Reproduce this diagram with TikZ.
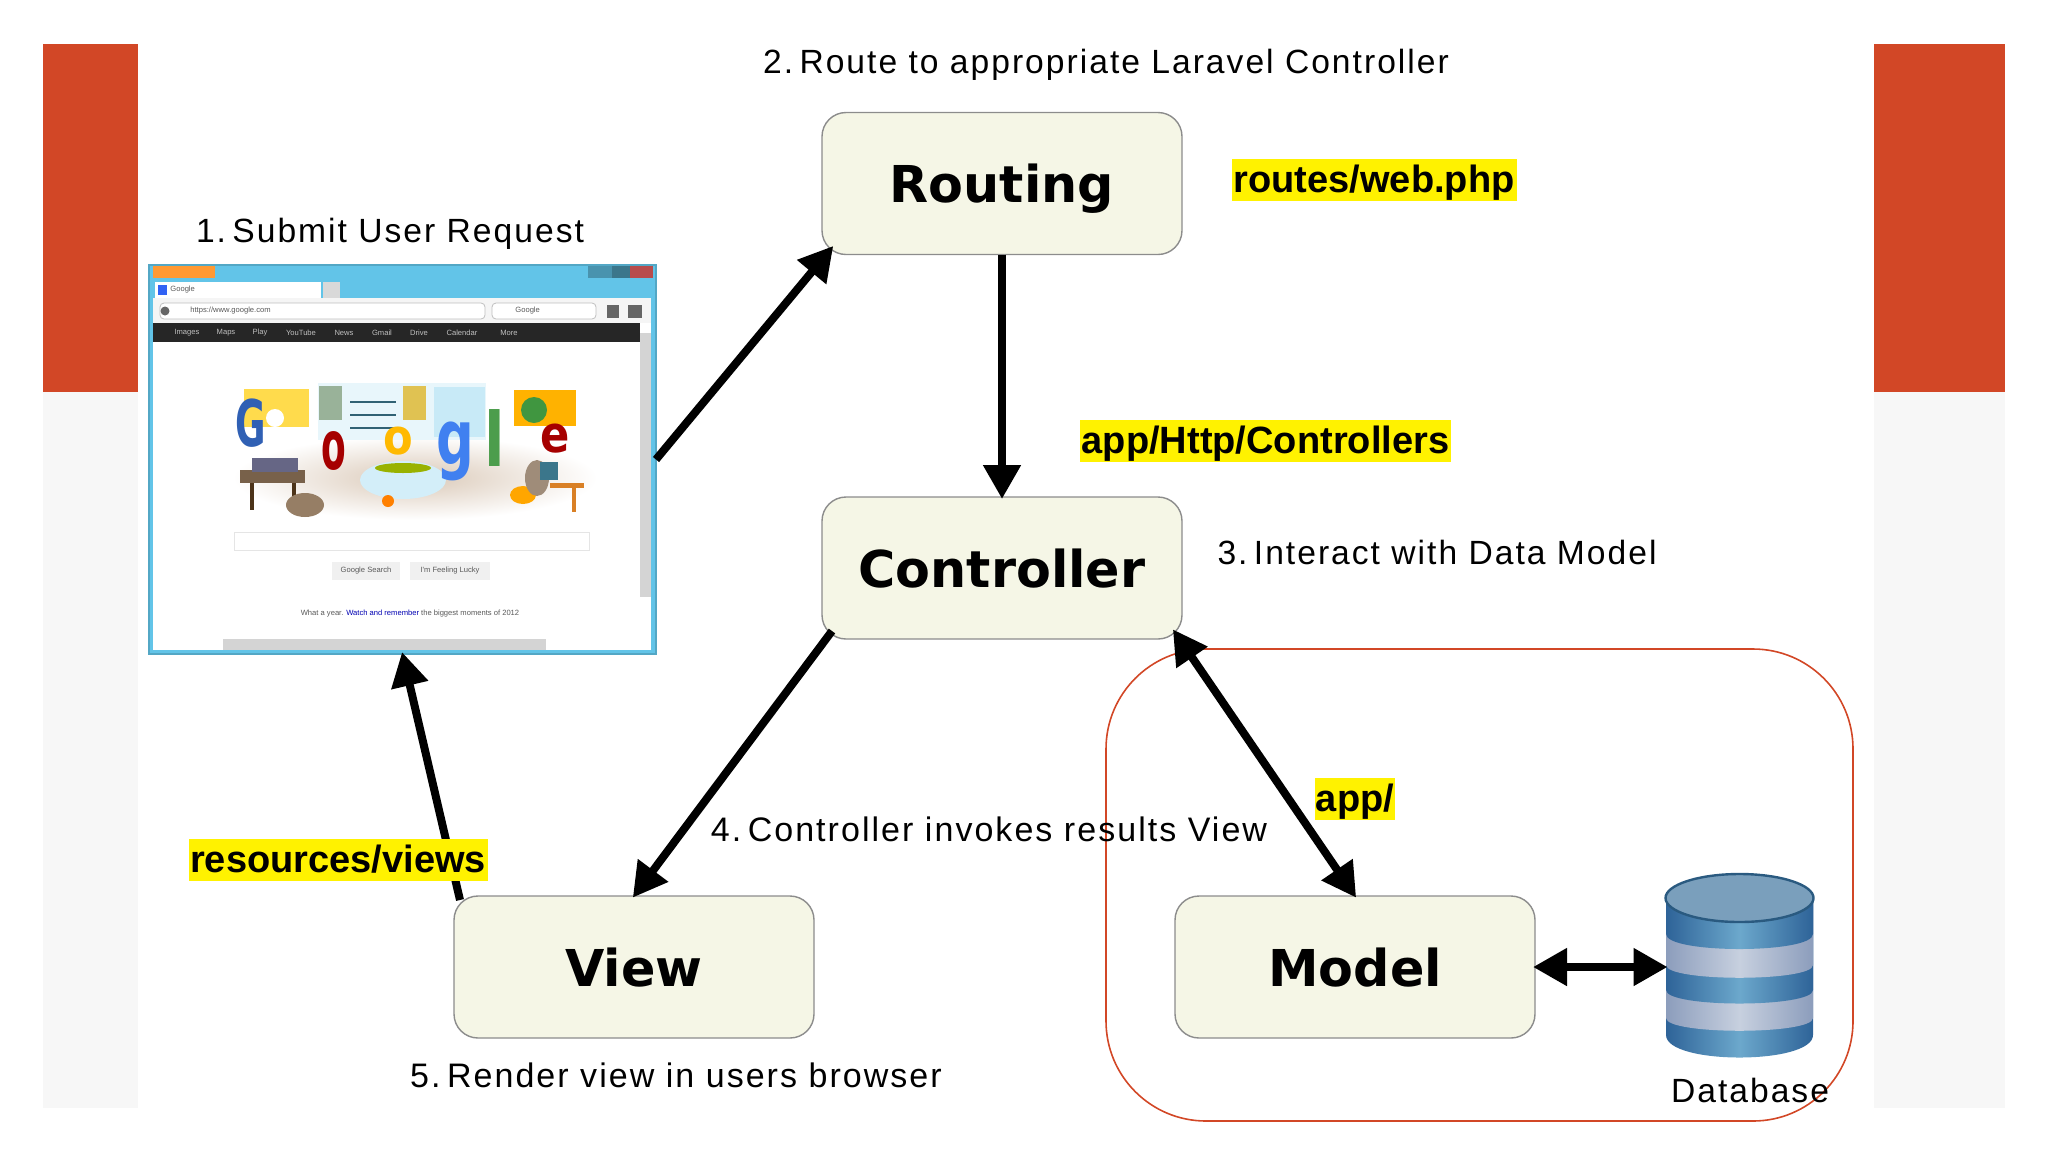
\documentclass[tikz,border=0pt]{standalone}
\usepackage{fontspec}
\usepackage{graphicx}
\usetikzlibrary{arrows.meta}
\newfontfamily\boxfont{DejaVu Sans}
\newfontfamily\capfont[LetterSpace=6]{Liberation Sans}
\newfontfamily\tagfont{Liberation Sans}
\definecolor{barred}{HTML}{D24726}
\definecolor{bargrey}{HTML}{F7F7F7}
\definecolor{boxfill}{HTML}{F5F6E6}
\definecolor{skyblue}{HTML}{62C4E8}
\definecolor{dbdark}{HTML}{2E6398}
\definecolor{dblight}{HTML}{6CA8CC}
\definecolor{dbgrey}{HTML}{8C9DBC}
\definecolor{dbpale}{HTML}{C7D0DF}
\definecolor{dbtop}{HTML}{7A9FBC}
\definecolor{dbedge}{HTML}{2A5A80}
\newcommand{\dbband}[4]{\shade[left color=#3,right color=#3,middle color=#4] (1666,898)--(1666,#1) .. controls (1666,#1+#2) and (1813,#1+#2) .. (1813,#1)--(1813,898)--cycle;}
\tikzset{
  mvcbox/.style={draw=black!45,line width=0.7pt,outer sep=0pt,fill=boxfill,rounded corners=12pt,minimum width=180pt,minimum height=71pt,text height=19pt,text depth=0pt,font=\boxfont\bfseries\fontsize{25.4}{30}\selectfont},
  caption/.style={font=\capfont\fontsize{16.8}{20}\selectfont},
  tag/.style={fill=yellow,inner sep=0pt,minimum height=21pt,text height=14pt,text depth=2pt,font=\tagfont\bfseries\fontsize{19}{23}\selectfont},
  flow/.style={line width=4pt,shorten >=-1pt,-{Triangle[length=17pt,width=18pt]}},
  twoway/.style={line width=4pt,shorten >=-1pt,shorten <=-1pt,{Triangle[length=17pt,width=18pt]}-{Triangle[length=17pt,width=18pt]}},
  tiny/.style={inner sep=0pt,font=\tagfont\fontsize{3.8}{4}\selectfont,text=black!65},
}
\begin{document}
\begin{tikzpicture}[x=0.5pt,y=-0.5pt]
\useasboundingbox (0,0) rectangle (2048,1152);
%\draw[help lines,step=100] (0,0) grid (2048,1152);
\fill[bargrey] (43,392) rectangle (138,1108);
\fill[bargrey] (1874,392) rectangle (2005,1108);
\fill[barred] (43,44) rectangle (138,392);
\fill[barred] (1874,44) rectangle (2005,392);
\draw[barred,line width=0.8pt,rounded corners=50pt] (1106,649) rectangle (1853,1121);
% browser window
\node[minimum width=253.5pt,minimum height=194.5pt,inner sep=0pt,outer sep=0pt,fill=skyblue,draw=skyblue!85!black,line width=0.8pt] (browser) at (402.5,459.5) {};
\fill[white] (153,298) rectangle (651,650);
\fill[orange!80!white] (153,266) rectangle (215,278);
\fill[skyblue!75!black] (588,266) rectangle (612,278);
\fill[skyblue!60!black] (612,266) rectangle (630,278);
\fill[red!60!black!70!white] (630,266) rectangle (653,278);
\fill[white] (155,282) rectangle (321,298);
\fill[black!15] (323,282) rectangle (340,298);
\fill[blue!50!skyblue] (158,285) rectangle (167,295);
\fill[black!4] (153,298) rectangle (651,323);
\draw[black!25,fill=white,rounded corners=2pt] (160,303) rectangle (485,319);
\draw[black!25,fill=white,rounded corners=2pt] (492,303) rectangle (596,319);
\fill[black!60] (165,311) circle (4.5);
\fill[black!60] (607,305) rectangle (619,318);
\fill[black!60] (628,305) rectangle (642,318);
\node[tiny,right] (tabtext) at (170,290) {Google};
\node[tiny,right] (urltext) at (190,311) {https://www.google.com};
\node[tiny,right] (findtext) at (515,311) {Google};
% nav bar
\fill[black!85] (153,323) rectangle (640,342);
\foreach \x/\w in {187/Images,226/Maps,260/Play,301/YouTube,344/News,382/Gmail,419/Drive,462/Calendar,509/More}
  \node[tiny,text=black!25] (nav\w) at (\x,333) {\w};
\fill[black!17] (640,333) rectangle (651,597);
\fill[black!17] (223,639) rectangle (546,650);
% doodle scene
\shade[inner color=black!22!brown!35,outer color=white] (415,478) ellipse (182 and 42);
\fill[skyblue!15] (318,383) rectangle (486,440);
\fill[orange!40!yellow!70] (244,389) rectangle (309,427);
\fill[white] (275,418) circle (9);
\fill[green!25!black!40] (319,386) rectangle (342,420);
\fill[brown!60!yellow!80] (403,386) rectangle (426,420);
\foreach \y in {402,415,428}
  \draw[skyblue!50!black,line width=0.7pt] (350,\y) -- (396,\y);
\fill[skyblue!35] (434,387) rectangle (485,437);
\fill[orange!60!yellow] (514,390) rectangle (576,426);
\fill[green!45!black!75] (534,410) circle (13);
\fill[brown!45!black!80] (240,470) rectangle (305,483);
\fill[blue!20!black!60] (252,458) rectangle (298,472);
\fill[brown!40!black] (250,483) rectangle (254,510);
\fill[brown!40!black] (292,483) rectangle (296,510);
\fill[black!45!brown!70] (305,505) ellipse (19 and 12);
\fill[skyblue!28] (403,480) ellipse (43 and 19);
\fill[orange!60!green] (403,468) ellipse (28 and 5);
\fill[orange] (388,501) circle (6);
\fill[orange!70!yellow] (523,495) ellipse (13 and 9);
\fill[black!50!brown!60] (537,478) ellipse (12 and 18);
\fill[skyblue!60!black] (540,462) rectangle (558,480);
\fill[brown!60!orange] (550,483) rectangle (584,488);
\fill[brown!60!orange] (572,488) rectangle (576,512);
\foreach \x/\y/\c/\t/\n/\sx/\sy in {251/423/blue!35!skyblue!75!black/G/a/.62/1.07,334/451/red!65!black/o/b/.6/1.13,398/441/orange!55!yellow/o/c/.72/.82,455/451/skyblue!65!blue/g/d/.88/1.27,495/438/green!45!black!70/l/e/1/1.25,555/439/red!65!black/e/f/.72/.85}
  \node[inner sep=0pt,text=\c,font=\boxfont\bfseries\fontsize{30}{30}\selectfont] (logo\n) at (\x,\y) {\scalebox{\sx}[\sy]{\t}};
\draw[black!10] (234,532) rectangle (589,550);
\node[tiny,fill=black!6,minimum width=34pt,minimum height=9pt] (search) at (366,571) {Google Search};
\node[tiny,fill=black!6,minimum width=40pt,minimum height=9pt] (lucky) at (450,571) {I'm Feeling Lucky};
\node[tiny] (year) at (410,614) {What a year. \textcolor{blue!70!black}{Watch and remember} the biggest moments of 2012};
% boxes
\node[mvcbox] (routing) at (1002,183.5) {Routing};
\node[mvcbox] (controller) at (1002,568) {Controller};
\node[mvcbox] (view) at (634,967) {View};
\node[mvcbox] (model) at (1355,967) {Model};
% database
\node[minimum width=74pt,minimum height=94pt,inner sep=0pt,outer sep=0pt] (db) at (1739.5,967) {};
\dbband{1035}{30}{dbdark}{dblight}
\dbband{1018}{17}{dbgrey}{dbpale}
\dbband{990}{18}{dbdark}{dblight}
\dbband{965}{17}{dbgrey}{dbpale}
\dbband{934}{20}{dbdark}{dblight}
\draw[dbedge,line width=1.2pt,fill=dbtop] (1739.5,898) ellipse (74 and 24);
% arrows
\coordinate (rsw) at ([xshift=5pt,yshift=3.5pt]routing.south west);
\coordinate (csw) at ([xshift=5pt,yshift=4pt]controller.south west);
\coordinate (cse) at ([xshift=-4pt,yshift=4pt]controller.south east);
\coordinate (vnw) at ([xshift=3pt,yshift=-2pt]view.north west);
\draw[flow] (browser.east) -- (rsw);
\draw[flow] (routing) -- (controller);
\draw[flow] (csw) -- (view.north);
\draw[flow] (vnw) -- (browser.south);
\draw[twoway] (cse) -- (model.north);
\draw[twoway] (model.east) -- (db.west);
% labels
\node[caption] (step1) at (390,234) {1.\kern-2.5pt\ Submit User Request};
\node[caption] (step2) at (1106,65) {2.\kern-2.5pt\ Route to appropriate Laravel Controller};
\node[caption] (step3) at (1437,552) {3.\kern-2.5pt\ Interact with Data Model};
\node[caption] (step4) at (989,829) {\fontsize{17}{20}\selectfont 4.\kern-2.5pt\ Controller invokes results View};
\node[caption] (step5) at (676,1075) {\fontsize{17}{20}\selectfont 5.\kern-2.5pt\ Render view in users browser};
\node[caption] (dblabel) at (1750,1090) {Database};
\node[tag,minimum width=142.5pt] (tagroute) at (1374,180) {routes/web.php};
\node[tag,minimum width=185.5pt] (tagctrl) at (1265.5,441) {app/Http/Controllers};
\node[tag,minimum width=40pt] (tagapp) at (1355,799) {app/};
\node[tag,minimum width=149.5pt] (tagview) at (338,860) {resources/views};
\end{tikzpicture}
\end{document}
